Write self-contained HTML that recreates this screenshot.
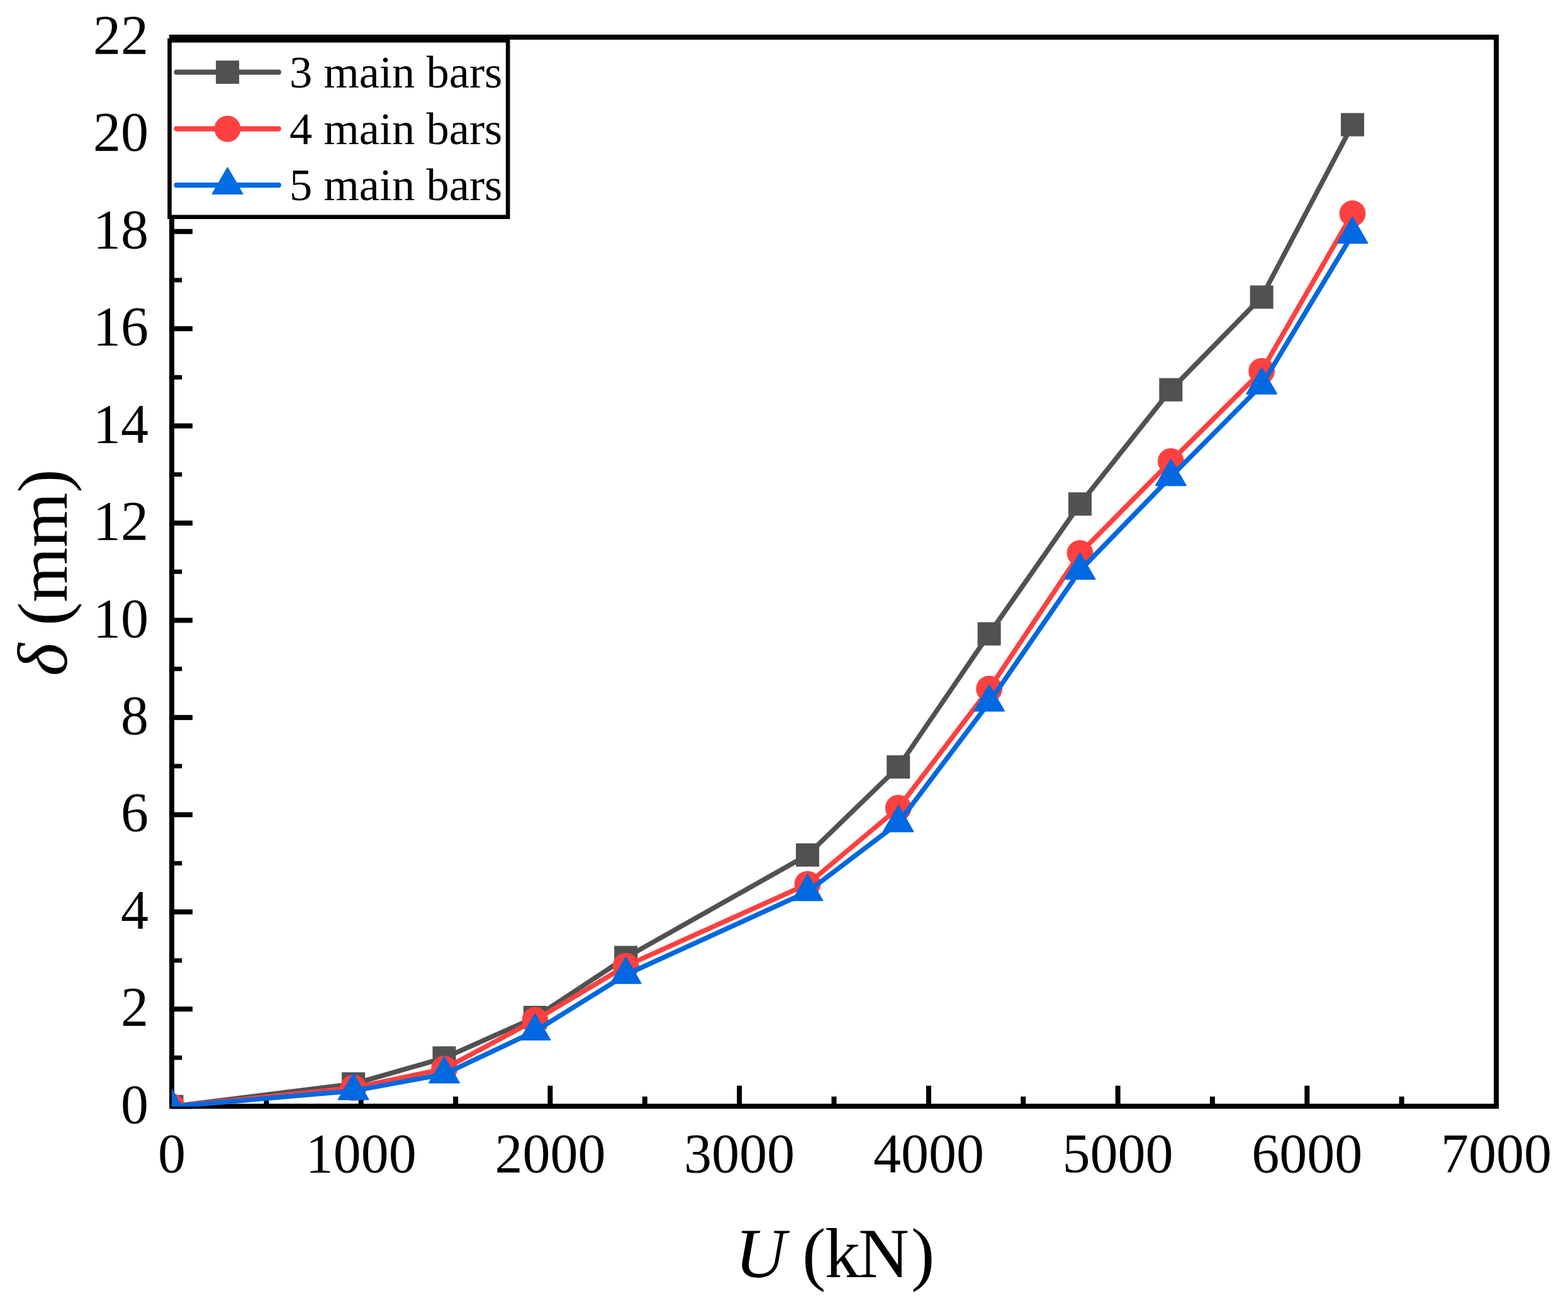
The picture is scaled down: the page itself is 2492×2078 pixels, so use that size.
<!DOCTYPE html>
<html lang="en">
<head>
<meta charset="utf-8">
<title>U (kN) vs δ (mm)</title>
<style>
html,body{margin:0;padding:0;background:#fff;}
body{width:2492px;height:2078px;}
svg{display:block;}
text{font-family:"Liberation Serif","Times New Roman",serif;fill:#000;}
.tick{font-size:88px;}
.leg{font-size:72.5px;}
.ttl{font-size:112px;}
.it{font-style:italic;}
</style>
</head>
<body>
<svg width="2492" height="2078" viewBox="0 0 2492 2078">
<defs><clipPath id="plotclip"><rect x="273.0" y="59.0" width="2105.0" height="1698.9"/></clipPath></defs>
<rect x="0" y="0" width="2492" height="2078" fill="#fff"/>
<rect x="273.0" y="59.0" width="2105.0" height="1698.5" fill="none" stroke="#000" stroke-width="8"/>
<g fill="#000"><rect x="273.0" y="1753.5" width="33" height="8"/>
<rect x="273.0" y="1676.8" width="16.2" height="7"/>
<rect x="273.0" y="1599.1" width="33" height="8"/>
<rect x="273.0" y="1522.4" width="16.2" height="7"/>
<rect x="273.0" y="1444.7" width="33" height="8"/>
<rect x="273.0" y="1368.0" width="16.2" height="7"/>
<rect x="273.0" y="1290.3" width="33" height="8"/>
<rect x="273.0" y="1213.6" width="16.2" height="7"/>
<rect x="273.0" y="1135.9" width="33" height="8"/>
<rect x="273.0" y="1059.2" width="16.2" height="7"/>
<rect x="273.0" y="981.5" width="33" height="8"/>
<rect x="273.0" y="904.8" width="16.2" height="7"/>
<rect x="273.0" y="827.0" width="33" height="8"/>
<rect x="273.0" y="750.3" width="16.2" height="7"/>
<rect x="273.0" y="672.6" width="33" height="8"/>
<rect x="273.0" y="595.9" width="16.2" height="7"/>
<rect x="273.0" y="518.2" width="33" height="8"/>
<rect x="273.0" y="441.5" width="16.2" height="7"/>
<rect x="273.0" y="363.8" width="33" height="8"/>
<rect x="273.0" y="287.1" width="16.2" height="7"/>
<rect x="273.0" y="209.4" width="33" height="8"/>
<rect x="273.0" y="132.7" width="16.2" height="7"/>
<rect x="273.0" y="55.0" width="33" height="8"/>
<rect x="269.0" y="1724.8" width="8" height="32.7"/>
<rect x="419.4" y="1742.1" width="8" height="15.4"/>
<rect x="569.7" y="1724.8" width="8" height="32.7"/>
<rect x="720.1" y="1742.1" width="8" height="15.4"/>
<rect x="870.4" y="1724.8" width="8" height="32.7"/>
<rect x="1020.8" y="1742.1" width="8" height="15.4"/>
<rect x="1171.1" y="1724.8" width="8" height="32.7"/>
<rect x="1321.5" y="1742.1" width="8" height="15.4"/>
<rect x="1471.9" y="1724.8" width="8" height="32.7"/>
<rect x="1622.2" y="1742.1" width="8" height="15.4"/>
<rect x="1772.6" y="1724.8" width="8" height="32.7"/>
<rect x="1922.9" y="1742.1" width="8" height="15.4"/>
<rect x="2073.3" y="1724.8" width="8" height="32.7"/>
<rect x="2223.6" y="1742.1" width="8" height="15.4"/>
<rect x="2374.0" y="1724.8" width="8" height="32.7"/></g>
<text class="tick" x="236" y="1783.5" text-anchor="end">0</text>
<text class="tick" x="236" y="1629.1" text-anchor="end">2</text>
<text class="tick" x="236" y="1474.7" text-anchor="end">4</text>
<text class="tick" x="236" y="1320.3" text-anchor="end">6</text>
<text class="tick" x="236" y="1165.9" text-anchor="end">8</text>
<text class="tick" x="236" y="1011.5" text-anchor="end">10</text>
<text class="tick" x="236" y="857.0" text-anchor="end">12</text>
<text class="tick" x="236" y="702.6" text-anchor="end">14</text>
<text class="tick" x="236" y="548.2" text-anchor="end">16</text>
<text class="tick" x="236" y="393.8" text-anchor="end">18</text>
<text class="tick" x="236" y="239.4" text-anchor="end">20</text>
<text class="tick" x="236" y="85.0" text-anchor="end">22</text>
<text class="tick" x="273.0" y="1861.8" text-anchor="middle">0</text>
<text class="tick" x="573.7" y="1861.8" text-anchor="middle">1000</text>
<text class="tick" x="874.4" y="1861.8" text-anchor="middle">2000</text>
<text class="tick" x="1175.1" y="1861.8" text-anchor="middle">3000</text>
<text class="tick" x="1475.9" y="1861.8" text-anchor="middle">4000</text>
<text class="tick" x="1776.6" y="1861.8" text-anchor="middle">5000</text>
<text class="tick" x="2077.3" y="1861.8" text-anchor="middle">6000</text>
<text class="tick" x="2378.0" y="1861.8" text-anchor="middle">7000</text>
<text class="ttl" x="1168.3" y="2028.8"><tspan class="it">U</tspan><tspan dx="-2.3"> (</tspan><tspan dx="-1.1">k</tspan><tspan dx="-3.2">N</tspan><tspan dx="3.2">)</tspan></text>
<text class="ttl" transform="translate(105.6 909.6) rotate(-90)" text-anchor="middle"><tspan class="it">δ</tspan> (mm)</text>
<g clip-path="url(#plotclip)">
<polyline points="273.0,1758.0 561.7,1722.0 706.0,1680.8 850.4,1616.4 994.7,1521.2 1283.4,1358.3 1427.7,1218.4 1572.1,1007.0 1716.4,800.7 1860.8,619.2 2005.1,472.0 2149.5,198.1" fill="none" stroke="#515151" stroke-width="7.7" stroke-linejoin="round" stroke-linecap="round"/>
<rect x="254.5" y="1739.5" width="37.0" height="37.0" fill="#515151"/>
<rect x="543.2" y="1703.5" width="37.0" height="37.0" fill="#515151"/>
<rect x="687.5" y="1662.3" width="37.0" height="37.0" fill="#515151"/>
<rect x="831.9" y="1597.9" width="37.0" height="37.0" fill="#515151"/>
<rect x="976.2" y="1502.7" width="37.0" height="37.0" fill="#515151"/>
<rect x="1264.9" y="1339.8" width="37.0" height="37.0" fill="#515151"/>
<rect x="1409.2" y="1199.9" width="37.0" height="37.0" fill="#515151"/>
<rect x="1553.6" y="988.5" width="37.0" height="37.0" fill="#515151"/>
<rect x="1697.9" y="782.2" width="37.0" height="37.0" fill="#515151"/>
<rect x="1842.3" y="600.7" width="37.0" height="37.0" fill="#515151"/>
<rect x="1986.6" y="453.5" width="37.0" height="37.0" fill="#515151"/>
<rect x="2131.0" y="179.6" width="37.0" height="37.0" fill="#515151"/>
<polyline points="273.0,1758.0 561.7,1728.2 706.0,1698.0 850.4,1620.7 994.7,1534.6 1283.4,1404.6 1427.7,1283.6 1572.1,1094.4 1716.4,878.8 1860.8,732.8 2005.1,589.6 2149.5,339.2" fill="none" stroke="#ff4040" stroke-width="7.7" stroke-linejoin="round" stroke-linecap="round"/>
<circle cx="273.0" cy="1758.0" r="20.9" fill="#ff4040"/>
<circle cx="561.7" cy="1728.2" r="20.9" fill="#ff4040"/>
<circle cx="706.0" cy="1698.0" r="20.9" fill="#ff4040"/>
<circle cx="850.4" cy="1620.7" r="20.9" fill="#ff4040"/>
<circle cx="994.7" cy="1534.6" r="20.9" fill="#ff4040"/>
<circle cx="1283.4" cy="1404.6" r="20.9" fill="#ff4040"/>
<circle cx="1427.7" cy="1283.6" r="20.9" fill="#ff4040"/>
<circle cx="1572.1" cy="1094.4" r="20.9" fill="#ff4040"/>
<circle cx="1716.4" cy="878.8" r="20.9" fill="#ff4040"/>
<circle cx="1860.8" cy="732.8" r="20.9" fill="#ff4040"/>
<circle cx="2005.1" cy="589.6" r="20.9" fill="#ff4040"/>
<circle cx="2149.5" cy="339.2" r="20.9" fill="#ff4040"/>
<polyline points="273.0,1758.0 561.7,1733.0 706.0,1706.5 850.4,1638.3 994.7,1548.4 1283.4,1416.7 1427.7,1307.4 1572.1,1115.7 1716.4,906.3 1860.8,757.4 2005.1,611.9 2149.5,372.4" fill="none" stroke="#0068e0" stroke-width="7.7" stroke-linejoin="round" stroke-linecap="round"/>
<polygon points="273.0,1730.4 296.9,1771.8 249.1,1771.8" fill="#0068e0" stroke="#0068e0" stroke-width="2" stroke-linejoin="round"/>
<polygon points="561.7,1705.4 585.6,1746.8 537.8,1746.8" fill="#0068e0" stroke="#0068e0" stroke-width="2" stroke-linejoin="round"/>
<polygon points="706.0,1678.9 729.9,1720.3 682.1,1720.3" fill="#0068e0" stroke="#0068e0" stroke-width="2" stroke-linejoin="round"/>
<polygon points="850.4,1610.7 874.3,1652.1 826.5,1652.1" fill="#0068e0" stroke="#0068e0" stroke-width="2" stroke-linejoin="round"/>
<polygon points="994.7,1520.8 1018.6,1562.2 970.8,1562.2" fill="#0068e0" stroke="#0068e0" stroke-width="2" stroke-linejoin="round"/>
<polygon points="1283.4,1389.1 1307.3,1430.5 1259.5,1430.5" fill="#0068e0" stroke="#0068e0" stroke-width="2" stroke-linejoin="round"/>
<polygon points="1427.7,1279.8 1451.6,1321.2 1403.8,1321.2" fill="#0068e0" stroke="#0068e0" stroke-width="2" stroke-linejoin="round"/>
<polygon points="1572.1,1088.1 1596.0,1129.5 1548.2,1129.5" fill="#0068e0" stroke="#0068e0" stroke-width="2" stroke-linejoin="round"/>
<polygon points="1716.4,878.7 1740.3,920.1 1692.5,920.1" fill="#0068e0" stroke="#0068e0" stroke-width="2" stroke-linejoin="round"/>
<polygon points="1860.8,729.8 1884.7,771.2 1836.9,771.2" fill="#0068e0" stroke="#0068e0" stroke-width="2" stroke-linejoin="round"/>
<polygon points="2005.1,584.3 2029.0,625.7 1981.2,625.7" fill="#0068e0" stroke="#0068e0" stroke-width="2" stroke-linejoin="round"/>
<polygon points="2149.5,344.8 2173.4,386.2 2125.6,386.2" fill="#0068e0" stroke="#0068e0" stroke-width="2" stroke-linejoin="round"/>
</g>
<rect x="269.5" y="64.3" width="537.7" height="280.4" fill="#fff" stroke="#000" stroke-width="6.6"/>
<line x1="280.5" y1="114.7" x2="442.8" y2="114.7" stroke="#515151" stroke-width="8.2" stroke-linecap="round"/>
<rect x="343.1" y="96.2" width="37.0" height="37.0" fill="#515151"/>
<text class="leg" x="460" y="138.6">3 main bars</text>
<line x1="280.5" y1="204.6" x2="442.8" y2="204.6" stroke="#ff4040" stroke-width="8.2" stroke-linecap="round"/>
<circle cx="361.6" cy="204.6" r="20.9" fill="#ff4040"/>
<text class="leg" x="460" y="228.6">4 main bars</text>
<line x1="280.5" y1="294.2" x2="442.8" y2="294.2" stroke="#006de4" stroke-width="8.2" stroke-linecap="round"/>
<polygon points="361.6,266.6 385.5,308.0 337.7,308.0" fill="#006de4" stroke="#006de4" stroke-width="2" stroke-linejoin="round"/>
<text class="leg" x="460" y="317.7">5 main bars</text>
</svg>
</body>
</html>
